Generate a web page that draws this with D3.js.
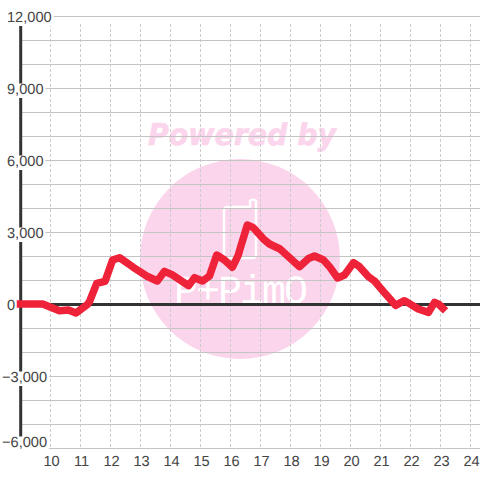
<!DOCTYPE html>
<html><head><meta charset="utf-8">
<style>html,body{margin:0;padding:0;background:#fff}svg{display:block}text{font-family:"Liberation Sans",Arial,sans-serif;text-rendering:geometricPrecision}</style>
<script src="https://cdn.jsdelivr.net/npm/d3@7"></script></head>
<body><svg id="c" width="480" height="480"></svg>
<script>
const hours=[9,9.74,10.3,10.6,10.85,11.23,11.3,11.54,11.82,12.07,12.3,12.76,13.2,13.56,13.8,14.05,14.6,14.8,15.07,15.3,15.54,15.8,16.06,16.26,16.32,16.56,16.76,17.1,17.3,17.65,18.3,18.6,18.8,19.1,19.3,19.57,19.8,20.1,20.3,20.6,20.8,21.1,21.5,21.8,22.26,22.6,22.8,22.95,23.08];
const values=[0,0,-280,-250,-375,-20,100,860,945,1833,1930,1530,1167,958,1360,1222,764,1097,958,1167,2042,1833,1530,2040,2300,3290,3180,2708,2500,2292,1555,1900,2000,1833,1555,1083,1208,1722,1555,1139,958,514,-55,139,-208,-347,70,-20,-180];
const yTicks=[-6000,-3000,0,3000,6000,9000,12000];
const yGrid=d3.range(-6000,12001,1000);
const xTicks=d3.range(10,25);
const watermark="Powered by";
const logoText="P+PimO";
const svg=d3.select("#c");
const x=d3.scaleLinear().domain([9,24]).range([20.5,470.5]);
const y=d3.scaleLinear().domain([-6000,12000]).range([448,16]);
const pink="#fbd5ec";
svg.append("circle").attr("cx",240).attr("cy",259).attr("r",100).attr("fill",pink);
svg.append("text").attr("x",148).attr("y",145).attr("fill",pink).attr("stroke",pink).attr("stroke-width",.6)
 .attr("textLength",188).attr("lengthAdjust","spacingAndGlyphs")
 .style("font-family","DejaVu Sans").style("font-weight","bold").style("font-style","italic").style("font-size","30px").text(watermark);
svg.append("path").attr("d","M228 207H250V201Q253 198 256 201V254Q256 258 252 258H228Q224 258 224 254V211Q224 207 228 207Z").attr("fill","none").attr("stroke","#fff").attr("stroke-width",2.5).attr("stroke-linejoin","round");
svg.append("text").attr("x",240).attr("y",303).attr("text-anchor","middle").attr("fill","#fff")
 .style("font-family","Liberation Mono").style("font-size","40px").style("letter-spacing","-2px").text(logoText);
svg.append("g").selectAll("line").data(xTicks).join("line").attr("x1",d=>x(d)).attr("x2",d=>x(d)).attr("y1",24).attr("y2",448)
 .attr("stroke","#cccccc").attr("stroke-width",1).attr("stroke-dasharray","3,2");
svg.append("g").selectAll("line").data(yGrid).join("line").attr("x1",20).attr("x2",480).attr("y1",d=>y(d)+.5).attr("y2",d=>y(d)+.5)
 .attr("stroke","#c4c4c4").attr("stroke-width",1);
svg.append("line").attr("x1",20.7).attr("x2",20.7).attr("y1",16).attr("y2",448).attr("stroke","#333").attr("stroke-width",3);
svg.append("line").attr("x1",20).attr("x2",480).attr("y1",y(0)+.5).attr("y2",y(0)+.5).attr("stroke","#333").attr("stroke-width",3);
const fmt=d3.format(",");
const yg=svg.append("g");
yTicks.forEach(t=>{
  const g=yg.append("g");
  const r=g.append("rect").attr("fill","#fff");
  const base=t===-6000?y(t)-1:y(t)+6;
  const tx=g.append("text").attr("x",t<0?2:7).attr("y",base).attr("fill","#444").style("font-size","14.6px").text(fmt(t));
  const b=tx.node().getBBox();
  r.attr("x",b.x).attr("y",b.y+1.5).attr("width",b.width+2).attr("height",b.height-1.5);
});
const xg=svg.append("g");
xTicks.forEach(t=>{
  xg.append("text").attr("x",x(t)+1).attr("y",466).attr("text-anchor","middle").attr("fill","#444").style("font-size","14.6px").text(t);
});
const line=d3.line().x((d,i)=>x(hours[i])).y(d=>y(d));
svg.append("path").attr("d",line(values)).attr("fill","none").attr("stroke","#ee2238").attr("stroke-width",7.5)
 .attr("stroke-linejoin","round").attr("stroke-linecap","square");
</script></body></html>
